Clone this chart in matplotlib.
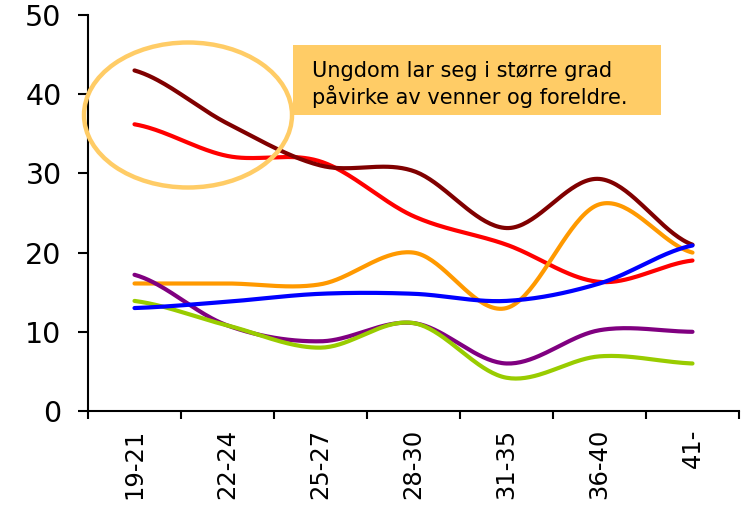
import numpy as np
import matplotlib
matplotlib.use("Agg")
import matplotlib.pyplot as plt
from matplotlib.patches import Ellipse, Rectangle

categories = ["19-21", "22-24", "25-27", "28-30", "31-35", "36-40", "41-"]
dark_red = [43.0, 36.3, 31.0, 30.3, 23.1, 29.3, 21.0]
red = [36.2, 32.2, 31.5, 24.6, 21.0, 16.3, 19.0]
orange = [16.1, 16.1, 16.0, 20.0, 13.0, 26.1, 20.0]
blue = [13.0, 13.8, 14.8, 14.8, 13.9, 16.1, 20.9]
purple = [17.2, 10.8, 8.8, 11.1, 6.0, 10.2, 10.0]
green = [13.9, 10.8, 8.0, 11.1, 4.2, 6.9, 6.0]
yticks = [0, 10, 20, 30, 40, 50]
note_lines = ["Ungdom lar seg i større grad", "påvirke av venner og foreldre."]

series = [
    (red, "#FF0000"),
    (dark_red, "#800000"),
    (orange, "#FF9900"),
    (purple, "#800080"),
    (green, "#99CC00"),
    (blue, "#0000FF"),
]


def smooth(y, n=40):
    y = np.asarray(y, dtype=float)
    x = np.arange(len(y), dtype=float)
    p = np.concatenate([[y[0]], y, [y[-1]]])
    xs, ys = [], []
    for i in range(len(y) - 1):
        p0, p1, p2, p3 = p[i], p[i + 1], p[i + 2], p[i + 3]
        m1 = (p2 - p0) / 2.0
        m2 = (p3 - p1) / 2.0
        t = np.linspace(0, 1, n, endpoint=(i == len(y) - 2))
        h00 = 2 * t**3 - 3 * t**2 + 1
        h10 = t**3 - 2 * t**2 + t
        h01 = -2 * t**3 + 3 * t**2
        h11 = t**3 - t**2
        xs.append(x[i] + t)
        ys.append(h00 * p1 + h10 * m1 + h01 * p2 + h11 * m2)
    return np.concatenate(xs), np.concatenate(ys)


W, H = 746, 511
fig = plt.figure(figsize=(W / 100, H / 100), dpi=100)
ax = fig.add_axes([88 / W, 1 - 411 / H, (739 - 88) / W, 396 / H])

for vals, col in series:
    xs, ys = smooth(vals)
    ax.plot(xs, ys, color=col, lw=3.0, solid_capstyle="round", solid_joinstyle="round")

ax.set_xlim(-0.5, len(categories) - 0.5)
ax.set_ylim(0, 50)
for s in ["top", "right"]:
    ax.spines[s].set_visible(False)
for s in ["left", "bottom"]:
    ax.spines[s].set_linewidth(1.5)

ax.set_yticks(yticks)
ax.set_yticklabels([str(v) for v in yticks], fontsize=20.5, family="DejaVu Sans")
ax.tick_params(axis="y", length=7, width=1.5, pad=12)

ax.set_xticks(np.arange(-0.5, len(categories) + 0.5, 1.0))
ax.set_xticklabels([])
ax.tick_params(axis="x", which="major", length=6, width=1.5)
ax.set_xticks(np.arange(len(categories)), minor=True)
ax.set_xticklabels(categories, minor=True, rotation=90, fontsize=17.5,
                   family="DejaVu Sans", va="top", ha="center")
ax.tick_params(axis="x", which="minor", length=0, pad=13)

# annotation box
fig.patches.append(Rectangle((293 / W, 1 - 115 / H), 368 / W, 70 / H,
                             transform=fig.transFigure, facecolor="#FFCC66",
                             edgecolor="none", zorder=5))
for i, line in enumerate(note_lines):
    fig.text(312 / W, 1 - (77 + 27 * i) / H, line, fontsize=15, family="DejaVu Sans",
             va="baseline", ha="left", zorder=6)

# highlight ellipse
fig.patches.append(Ellipse((188 / W, 1 - 115 / H), 208 / W, 145 / H,
                           transform=fig.transFigure, facecolor="none",
                           edgecolor="#FFCC66", lw=3.2, zorder=6))

fig.savefig("out.png", dpi=100)
